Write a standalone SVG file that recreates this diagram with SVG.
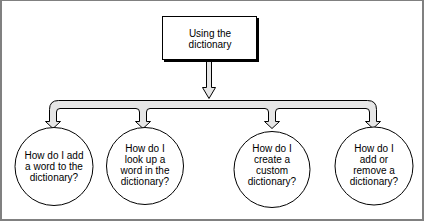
<svg xmlns="http://www.w3.org/2000/svg" width="425" height="222" viewBox="0 0 425 222">
<style>
text{font-family:"Liberation Sans",Arial,sans-serif;font-size:10px;fill:#000;text-anchor:middle}
.c{fill:#fff;stroke:#000;stroke-width:1}
.arr{fill:#e6e6e6;stroke:#000;stroke-width:1;stroke-linejoin:miter}
.frame{stroke:#808080;fill:none}
</style>
<rect width="425" height="222" fill="#fff"/>
<g id="frame">
<line class="frame" x1="0" y1="0.5" x2="424" y2="0.5" stroke-width="1"/>
<line class="frame" x1="1" y1="0" x2="1" y2="221" stroke-width="2"/>
<line class="frame" x1="423" y1="0" x2="423" y2="221" stroke-width="2"/>
<line class="frame" x1="0" y1="220" x2="424" y2="220" stroke-width="2"/>
</g>
<g id="connectors">
<path class="arr" d="M206.5,61.5 L211.5,61.5 L211.5,87.5 L215.5,87.5 L209,98.5 L202.5,87.5 L206.5,87.5 Z"/>
<path class="arr" d="M58.5,100.5 L367.5,100.5 Q376.5,100.5 376.5,109.5 L376.5,121.5 L380.5,121.5 L373,128.5 L365.5,121.5 L369.5,121.5 L369.5,112 Q369.5,108.5 366,108.5 L279,108.5 Q275.5,108.5 275.5,112 L275.5,121.5 L279.5,121.5 L272,128.5 L264.5,121.5 L268.5,121.5 L268.5,112 Q268.5,108.5 265,108.5 L150,108.5 Q146.5,108.5 146.5,112 L146.5,121.5 L150.5,121.5 L143,128.5 L135.5,121.5 L139.5,121.5 L139.5,112 Q139.5,108.5 136,108.5 L60,108.5 Q56.5,108.5 56.5,112 L56.5,121.5 L60.5,121.5 L53,128.5 L45.5,121.5 L49.5,121.5 L49.5,109.5 Q49.5,100.5 58.5,100.5 Z"/>
</g>
<g id="root">
<rect x="164" y="18" width="95" height="44" fill="#000"/>
<rect class="c" x="162.5" y="16.5" width="94" height="43"/>
<text x="210" y="37">Using the</text>
<text x="210" y="48">dictionary</text>
</g>
<g id="n1">
<circle class="c" cx="54" cy="166.5" r="39"/>
<text x="54" y="159">How do I add</text>
<text x="54" y="170">a word to the</text>
<text x="54" y="181">dictionary?</text>
</g>
<g id="n2">
<circle class="c" cx="145" cy="166" r="38.5"/>
<text x="145" y="152">How do I</text>
<text x="145" y="163">look up a</text>
<text x="145" y="174">word in the</text>
<text x="145" y="185">dictionary?</text>
</g>
<g id="n3">
<circle class="c" cx="272" cy="169.5" r="38"/>
<text x="272" y="152">How do I</text>
<text x="272" y="163">create a</text>
<text x="272" y="174">custom</text>
<text x="272" y="185">dictionary?</text>
</g>
<g id="n4">
<circle class="c" cx="374" cy="166" r="39"/>
<text x="374" y="152">How do I</text>
<text x="374" y="163">add or</text>
<text x="374" y="174">remove a</text>
<text x="374" y="185">dictionary?</text>
</g>
</svg>
